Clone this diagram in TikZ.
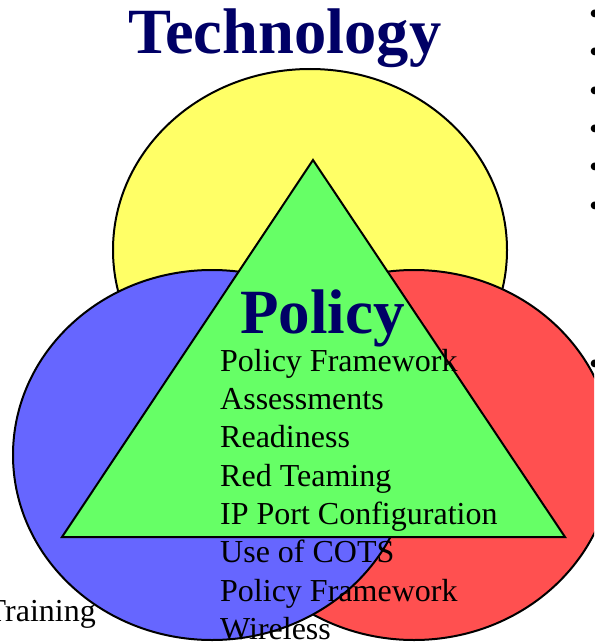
\documentclass[tikz,border=0pt]{standalone}
\usepackage{fontspec}
\setmainfont{Liberation Serif}
\definecolor{cyellow}{HTML}{FFFF66}
\definecolor{cblue}{HTML}{6666FF}
\definecolor{cred}{HTML}{FF5050}
\definecolor{cgreen}{HTML}{66FF66}
\definecolor{cnavy}{HTML}{000066}
\begin{document}
\begin{tikzpicture}[x=1pt,y=-1pt,
  shapeline/.style={draw=black,line width=2pt},
  title/.style={font=\fontsize{63}{70}\selectfont\bfseries,text=cnavy,anchor=base west,inner sep=0pt},
  item/.style={font=\fontsize{32}{38}\selectfont,anchor=base west,inner sep=0pt},
  bul/.style={font=\fontsize{32}{38}\selectfont,anchor=base west,inner sep=0pt}]
\useasboundingbox (0,0) rectangle (594,642);
\begin{scope}
\clip (0,0) rectangle (594,642);
\fill[cyellow,shapeline] (310,250) ellipse [x radius=197pt, y radius=181pt];
\fill[cred,shapeline] (414,455) ellipse [x radius=199pt, y radius=185pt];
\fill[cblue,shapeline] (212,455) ellipse [x radius=199pt, y radius=185pt];
\coordinate (apex) at (313,160);
\coordinate (bl) at (62,537);
\coordinate (br) at (565,537);
\fill[cgreen,shapeline,line join=miter] (apex) -- (bl) -- (br) -- cycle;
\node[title,font=\fontsize{64.5}{70}\selectfont\bfseries] (tech) at (128,54) {Technology};
\node[title] (pol) at (240,333) {Policy};
\node[item] (i1) at (220,371) {Policy Framework};
\node[item] (i2) at (220,409.3) {Assessments};
\node[item] (i3) at (220,447.6) {Readiness};
\node[item] (i4) at (220,486) {Red Teaming};
\node[item] (i5) at (220,524.3) {IP Port Configuration};
\node[item] (i6) at (220,562.6) {Use of COTS};
\node[item] (i7) at (220,601) {Policy Framework};
\node[item] (i8) at (220,639.3) {Wireless};
\node[item,anchor=base east] (train) at (96,621) {Training};
\node[bul] (b1) at (589,25) {•};
\node[bul] (b2) at (589,63) {•};
\node[bul] (b3) at (589,101) {•};
\node[bul] (b4) at (589,139) {•};
\node[bul] (b5) at (589,177) {•};
\node[bul] (b6) at (589,216) {•};
\node[bul] (b7) at (589,374) {•};
\end{scope}
\end{tikzpicture}
\end{document}
